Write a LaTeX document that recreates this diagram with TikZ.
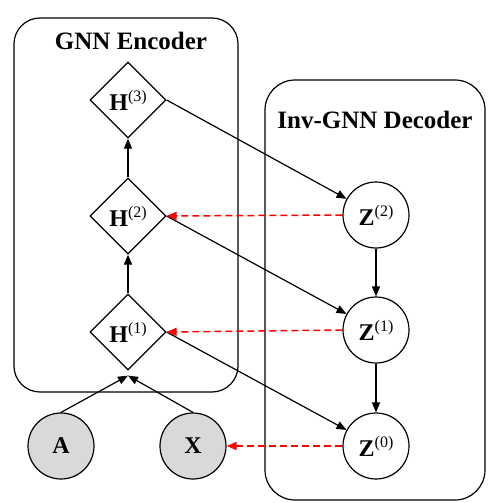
\documentclass[tikz,border=0pt]{standalone}
\usepackage{fontspec}
\setmainfont{Liberation Serif}
\usepackage{tikz}
\usetikzlibrary{shapes.geometric,arrows.meta}

\tikzset{
    enc/.style={draw, shape=diamond, minimum size=76pt, inner sep=0pt, font=\fontsize{24}{26}\selectfont},
    dec/.style={draw, circle, minimum size=66pt, inner sep=0pt, font=\fontsize{24}{26}\selectfont},
    obs/.style={dec, fill=gray!30},
    fwd/.style={-{Triangle[length=10pt,width=8pt]}},
    inv/.style={red, line width=1.5pt, dash pattern=on 7pt off 4pt, -{Triangle[length=10pt,width=8pt]}},
    title/.style={font=\fontsize{25}{27}\selectfont\bfseries}
}
\newcommand{\lbl}[2]{\textbf{#1}\raisebox{9pt}{\fontsize{16}{17}\selectfont(#2)}}

\begin{document}
\begin{tikzpicture}[x=1pt, y=-1pt, line width=1.2pt]
        \useasboundingbox (0,0) rectangle (487,503);
        % encoder and decoder frames
        \draw[rounded corners=26pt] (14,18) rectangle (238,392);
        \draw[rounded corners=30pt] (265,80) rectangle (485,500);
        \node[title] (enctitle) at (131,41) {GNN Encoder};
        \node[title] (dectitle) at (375,120) {Inv-GNN Decoder};
        % encoder nodes
        \node[enc] (h3) at (128,100) {\lbl{H}{3}};
        \node[enc] (h2) at (128,216) {\lbl{H}{2}};
        \node[enc] (h1) at (128,332) {\lbl{H}{1}};
        \node[obs] (a) at (61,446) {\textbf{A}};
        \node[obs] (x) at (193,446) {\textbf{X}};
        % decoder nodes
        \node[dec] (z2) at (376,215) {\lbl{Z}{2}};
        \node[dec] (z1) at (376,330) {\lbl{Z}{1}};
        \node[dec] (z0) at (376,446) {\lbl{Z}{0}};
        % forward pass
        \draw[fwd] (a.north) -- ([yshift=-5pt]h1.south);
        \draw[fwd] (x.north) -- ([yshift=-5pt]h1.south);
        \draw[fwd] (h1.north) -- (h2.south);
        \draw[fwd] (h2.north) -- (h3.south);
        \draw[fwd] (h3.east) -- (z2);
        \draw[fwd] (h2.east) -- (z1);
        \draw[fwd] (h1.east) -- (z0);
        \draw[fwd] (z2) -- (z1);
        \draw[fwd] (z1) -- (z0);
        % inverse pass
        \draw[inv] (z2.west) -- (h2.east);
        \draw[inv] (z1.west) -- (h1.east);
        \draw[inv] (z0.west) -- (x.east);
    \end{tikzpicture}
\end{document}
